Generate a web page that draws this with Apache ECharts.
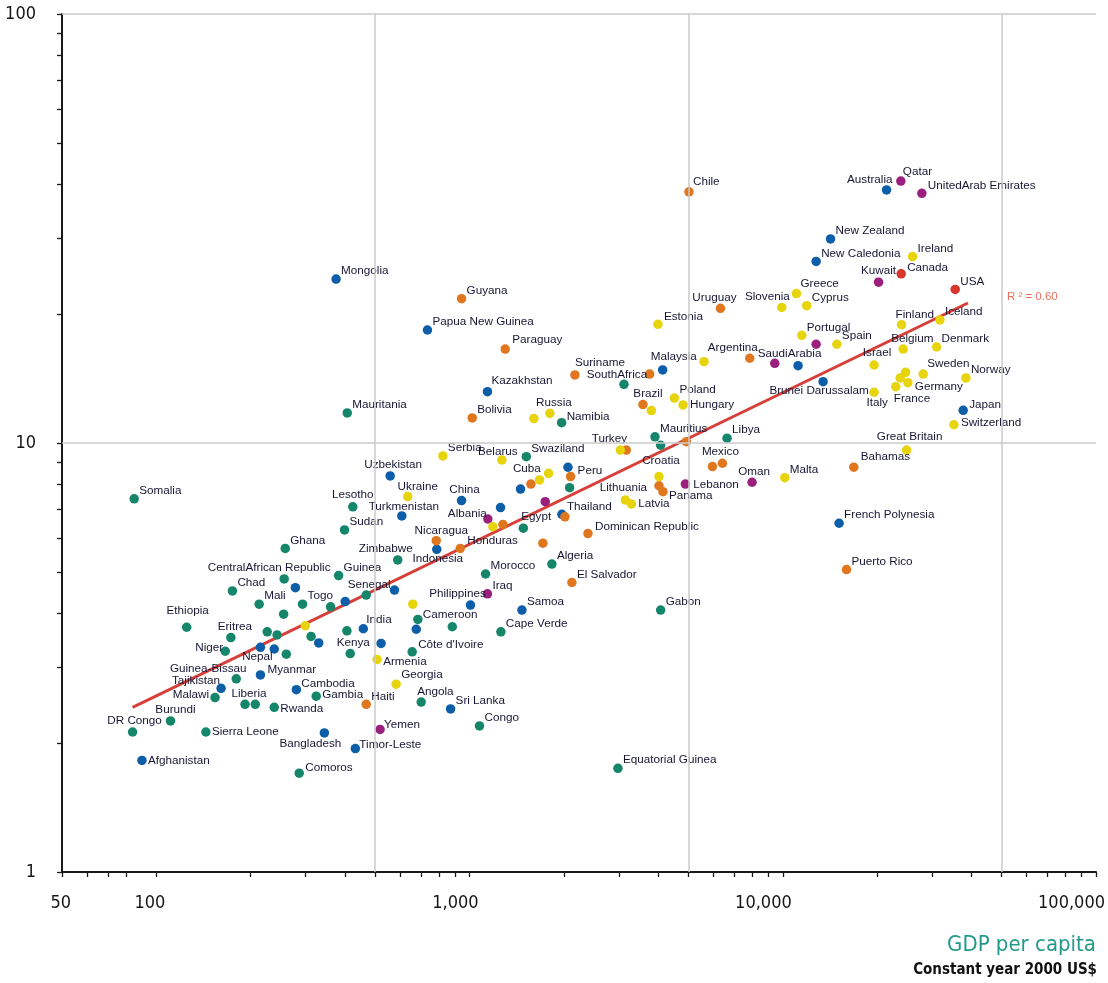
<!DOCTYPE html>
<html>
<head>
<meta charset="utf-8">
<script src="https://cdn.jsdelivr.net/npm/echarts@6/dist/echarts.min.js"></script>
<style>html,body{margin:0;padding:0;background:#fff}#chart{width:1108px;height:983px}</style>
</head>
<body>
<div id="chart"></div>
<script>
// [country label, GDP per capita (constant 2000 US$), value]
const africa = [
  ['Somalia', 85, 7.41], ['Mauritania', 407, 11.75], ['Lesotho', 424, 7.10], ['Sudan', 399, 6.27],
  ['Ghana', 258, 5.68], ['CentralAfrican Republic', 256, 4.82], ['Guinea', 382, 4.91], ['Chad', 175, 4.52],
  ['Mali', 213, 4.21], ['Togo', 293, 4.21], ['Senegal', 468, 4.42], ['Ethiopia', 125, 3.72],
  ['Eritrea', 173, 3.52], ['Niger', 166, 3.27], ['Kenya', 416, 3.23], ['Guinea-Bissau', 180, 2.82],
  ['Malawi', 154, 2.55], ['Liberia', 192, 2.46], ['Rwanda', 238, 2.42], ['Gambia', 324, 2.57],
  ['Burundi', 111, 2.25], ['DR Congo', 84, 2.12], ['Sierra Leone', 144, 2.12], ['Comoros', 286, 1.70],
  ['Zimbabwe', 590, 5.34], ['Morocco', 1125, 4.95], ['Algeria', 1832, 5.22], ['Egypt', 1485, 6.33],
  ['Namibia', 1968, 11.15], ['SouthAfrica', 3112, 13.70], ['Swaziland', 1518, 9.29], ['Mauritius', 3909, 10.34],
  ['Libya', 6640, 10.26], ['Gabon', 4075, 4.08], ['Cape Verde', 1259, 3.63], ['Cameroon', 684, 3.88],
  ["Côte d'Ivoire", 656, 3.26], ['Angola', 701, 2.49], ['Congo', 1076, 2.19], ['Equatorial Guinea', 2977, 1.745],
  ['', 360, 4.15], ['', 255, 3.99], ['', 226, 3.63], ['', 243, 3.57], ['', 312, 3.54], ['', 406, 3.65],
  ['', 260, 3.22], ['', 207, 2.46], ['', 881, 3.73], ['', 2087, 7.87], ['', 4075, 9.88]
];
const asiaPacific = [
  ['Australia', 21445, 38.9], ['New Zealand', 14208, 29.9], ['New Caledonia', 12780, 26.5],
  ['Brunei Darussalam', 13450, 13.9], ['Japan', 37670, 11.92], ['French Polynesia', 15130, 6.50],
  ['Malaysia', 4136, 14.8], ['', 11190, 15.14], ['Mongolia', 375, 24.1], ['Papua New Guinea', 734, 18.34],
  ['Kazakhstan', 1141, 13.17], ['Uzbekistan', 558, 8.38], ['Turkmenistan', 608, 6.76], ['China', 943, 7.34],
  ['Thailand', 1972, 6.82], ['', 2062, 8.78], ['', 1455, 7.81], ['', 1256, 7.07], ['Indonesia', 786, 5.65],
  ['Philippines', 1007, 4.19], ['Samoa', 1470, 4.08], ['India', 458, 3.69], ['', 522, 3.41], ['', 676, 3.68],
  ['', 576, 4.54], ['', 401, 4.27], ['', 278, 4.60], ['Nepal', 215, 3.34], ['', 238, 3.31], ['', 330, 3.42],
  ['Myanmar', 215, 2.88], ['Tajikistan', 161, 2.68], ['Cambodia', 280, 2.66], ['Bangladesh', 344, 2.11],
  ['Timor-Leste', 432, 1.94], ['Sri Lanka', 870, 2.40], ['Afghanistan', 90, 1.82]
];
const europe = [
  ['Ireland', 25970, 27.2], ['Greece', 11060, 22.3], ['Slovenia', 9930, 20.7], ['Cyprus', 11930, 20.9],
  ['Finland', 23950, 18.87], ['Iceland', 31740, 19.35], ['Portugal', 11500, 17.82], ['Spain', 14880, 16.99],
  ['Israel', 19570, 15.2], ['Belgium', 24230, 16.56], ['Denmark', 30980, 16.74], ['Sweden', 28070, 14.48],
  ['Norway', 38430, 14.18], ['', 24660, 14.61], ['', 23710, 14.18], ['Germany', 25080, 13.82],
  ['France', 22960, 13.53], ['Italy', 19570, 13.13], ['Switzerland', 35180, 11.03], ['Great Britain', 24850, 9.63],
  ['Malta', 10150, 8.30], ['Estonia', 3995, 18.91], ['', 5606, 15.47], ['Poland', 4508, 12.73],
  ['Hungary', 4803, 12.27], ['', 3806, 11.90], ['Russia', 1805, 11.73], ['', 1605, 11.40],
  ['Turkey', 3030, 9.63], ['Croatia', 4025, 8.35], ['Lithuania', 3144, 7.36], ['Latvia', 3286, 7.21],
  ['Serbia', 822, 9.33], ['Belarus', 1268, 9.13], ['', 1673, 8.20], ['', 1788, 8.50], ['Ukraine', 635, 7.50],
  ['Albania', 1187, 6.38], ['', 659, 4.21], ['', 299, 3.75], ['Armenia', 507, 3.13], ['Georgia', 583, 2.74]
];
const latinAmerica = [
  ['Chile', 5018, 38.5], ['Guyana', 943, 21.7], ['Paraguay', 1300, 16.56], ['Uruguay', 6324, 20.6],
  ['Argentina', 7846, 15.76], ['Suriname', 2170, 14.41], ['', 3759, 14.48], ['Brazil', 3578, 12.29],
  ['Bolivia', 1020, 11.44], ['', 3167, 9.63], ['', 4923, 10.07], ['Mexico', 6416, 8.97], ['', 5963, 8.81],
  ['Bahamas', 16860, 8.78], ['Puerto Rico', 15980, 5.07], ['Peru', 2102, 8.35], ['Cuba', 1570, 8.02],
  ['Panama', 4145, 7.70], ['', 4025, 7.95], ['', 2016, 6.73], ['Dominican Republic', 2388, 6.15],
  ['', 1278, 6.46], ['', 1715, 5.84], ['Nicaragua', 783, 5.92], ['Honduras', 934, 5.68],
  ['El Salvador', 2122, 4.73], ['Haiti', 468, 2.46]
];
const middleEast = [
  ['Qatar', 23820, 40.8], ['UnitedArab Emirates', 27800, 38.2], ['Kuwait', 20220, 23.7],
  ['SaudiArabia', 9430, 15.34], ['', 12780, 16.99], ['Oman', 7980, 8.10], ['Lebanon', 4887, 8.02],
  ['Iraq', 1141, 4.45], ['Yemen', 518, 2.15], ['', 1144, 6.65], ['', 1745, 7.30]
];
const northAmerica = [
  ['USA', 35520, 22.8], ['Canada', 23880, 24.8]
];
// regression line end points
const trendX = [84, 39000];
const trendY = [2.42, 21.2];
const rSquared = '0.60';
// axis ticks and labels
const xTickValues = [50,60,70,80,100,200,300,400,500,600,700,800,900,1000,2000,3000,4000,5000,6000,7000,8000,9000,
  10000,20000,30000,40000,50000,60000,70000,80000,90000,100000];
const xLabelValues = [50, 100, 1000, 10000, 100000];
const yTickValues = [1,2,3,4,5,6,7,8,9,10,20,30,40,50,60,70,80,90,100];
const yLabelValues = [1, 10, 100];
const gridX = [500, 5000, 50000];
const gridY = [10, 100];

// ---- styling ----
const regionColors = {
  africa: '#16866b', asiaPacific: '#0d5ea8', europe: '#e7d40c',
  latinAmerica: '#e0771f', middleEast: '#9b1f7d', northAmerica: '#d8352c'
};
const DOT = 9.5;
const labelFont = "'Liberation Sans', Arial, sans-serif";
const axisFont = "'Liberation Sans Narrow', 'Noto Sans Condensed', 'DejaVu Sans Condensed', sans-serif";
// [align, dx, dy] relative to dot centre; default is upper right
const labelPlace = {
  'Chile': ['left',4,-10], 'Australia': ['right',6,-10], 'Qatar': ['left',2,-9], 'UnitedArab Emirates': ['left',6,-8],
  'Kuwait': ['center',0,-11], 'Canada': ['left',6,-6], 'Greece': ['left',4,-10], 'Slovenia': ['right',8,-11],
  'Finland': ['left',-6,-10], 'SaudiArabia': ['left',-17,-10], 'Argentina': ['right',8,-10],
  'Brunei Darussalam': ['center',-4,9], 'Israel': ['center',3,-12], 'Belgium': ['left',-12,-10],
  'Sweden': ['left',4,-10], 'Germany': ['left',7,4], 'France': ['left',-2,12], 'Italy': ['center',3,11],
  'Japan': ['left',6,-6], 'Switzerland': ['left',7,-2], 'Great Britain': ['center',3,-13], 'Bahamas': ['left',7,-10],
  'Oman': ['center',2,-10], 'Uruguay': ['center',-6,-11], 'Malaysia': ['left',-12,-13], 'Suriname': ['left',0,-12],
  'SouthAfrica': ['center',-7,-10], 'Kazakhstan': ['left',4,-11], 'Brazil': ['center',5,-11], 'Hungary': ['left',7,0],
  'Russia': ['center',4,-10], 'Namibia': ['left',5,-6], 'Turkey': ['center',-11,-11], 'Belarus': ['center',-4,-8],
  'Croatia': ['center',2,-16], 'Mexico': ['center',-2,-11], 'Lebanon': ['left',8,1], 'Panama': ['left',6,4],
  'Lithuania': ['center',-2,-12], 'Latvia': ['left',7,0], 'Cuba': ['center',-4,-15], 'Egypt': ['left',-2,-11],
  'Albania': ['right',-6,-13], 'China': ['center',3,-11], 'Ukraine': ['center',10,-10], 'Uzbekistan': ['center',3,-11],
  'Turkmenistan': ['center',2,-9], 'Nicaragua': ['center',5,-10], 'Indonesia': ['center',1,9],
  'Zimbabwe': ['center',-12,-11], 'Philippines': ['center',-13,-11], 'Cameroon': ['left',5,-5], 'Armenia': ['left',6,2],
  'India': ['left',3,-9], 'Angola': ['left',-4,-10], 'Yemen': ['left',4,-5], 'Timor-Leste': ['left',4,-4],
  'Tajikistan': ['right',-1,-8], 'Malawi': ['right',-6,-3], 'Liberia': ['center',4,-11], 'Rwanda': ['left',6,1],
  'Cambodia': ['left',5,-6], 'Gambia': ['left',6,-1], 'Burundi': ['center',5,-11], 'DR Congo': ['center',2,-11],
  'Sierra Leone': ['left',6,0], 'Bangladesh': ['center',-14,11], 'Afghanistan': ['left',6,0], 'Comoros': ['left',6,-5],
  'Lesotho': ['center',0,-12], 'CentralAfrican Republic': ['center',-15,-11], 'Senegal': ['center',3,-10],
  'Ethiopia': ['center',1,-16], 'Eritrea': ['center',4,-11], 'Niger': ['right',-2,-3], 'Nepal': ['center',-3,9],
  'Kenya': ['center',3,-11], 'Guinea-Bissau': ['center',-28,-10], 'Myanmar': ['left',7,-5],
  "Côte d'Ivoire": ['left',6,-7], 'Paraguay': ['left',7,-9], 'Estonia': ['left',6,-8], 'Honduras': ['left',7,-8],
  'Dominican Republic': ['left',7,-7], 'Peru': ['left',7,-6], 'Georgia': ['left',5,-9]
};

function makeItems(rows) {
  return rows.map(([name, x, y]) => {
    const item = { name: name, value: [x, y] };
    if (name) {
      const p = labelPlace[name] || ['left', 5, -8];
      item.label = {
        show: true, formatter: '{b}', position: [DOT / 2 + p[1], DOT / 2 + p[2]],
        align: p[0], verticalAlign: 'middle'
      };
    } else {
      item.label = { show: false };
    }
    return item;
  });
}
function scatter(key, rows) {
  return {
    type: 'scatter', name: key, data: makeItems(rows), symbol: 'circle', symbolSize: DOT, z: 3,
    itemStyle: { color: regionColors[key], opacity: 1 },
    label: { color: '#161633', fontFamily: labelFont, fontSize: 11.7 },
    emphasis: { disabled: true }
  };
}
const fmt = v => Math.round(v).toLocaleString('en-US');

const chart = echarts.init(document.getElementById('chart'), null, { renderer: 'canvas' });
chart.setOption({
  animation: false,
  backgroundColor: '#ffffff',
  grid: { left: 62, right: 12, top: 14, bottom: 111, outerBoundsMode: 'none', containLabel: false },
  title: [
    { text: 'GDP per capita', right: 7, top: 929,
      textStyle: { color: '#23998b', fontFamily: axisFont, fontSize: 22, fontWeight: 'normal' } },
    { text: 'Constant year 2000 US$', right: 6, top: 958,
      textStyle: { color: '#111111', fontFamily: axisFont, fontSize: 15, fontWeight: 'bold' } }
  ],
  xAxis: {
    type: 'log', logBase: 10, min: 50, max: 100000,
    axisLine: { show: true, onZero: false, lineStyle: { color: '#1a1a1a', width: 2 } },
    axisTick: { show: true, length: 5, customValues: xTickValues, lineStyle: { color: '#1a1a1a', width: 1.3 } },
    axisLabel: { customValues: xLabelValues, formatter: fmt, fontFamily: axisFont, fontSize: 18,
      color: '#151515', margin: 22, align: 'right', padding: [0, -9, 0, 0] },
    splitLine: { show: false }, minorTick: { show: false }
  },
  yAxis: {
    type: 'log', logBase: 10, min: 1, max: 100,
    axisLine: { show: true, onZero: false, lineStyle: { color: '#1a1a1a', width: 2 } },
    axisTick: { show: true, length: 5, customValues: yTickValues, lineStyle: { color: '#1a1a1a', width: 1.3 } },
    axisLabel: { customValues: yLabelValues, formatter: fmt, fontFamily: axisFont, fontSize: 18,
      color: '#151515', margin: 26 },
    splitLine: { show: false }
  },
  series: [
    {
      type: 'line', name: 'grid', data: [], z: 0, silent: true,
      markLine: {
        silent: true, symbol: ['none', 'none'], label: { show: false }, animation: false,
        lineStyle: { color: '#cacaca', width: 1.5, type: 'solid' },
        emphasis: { disabled: true },
        data: gridX.map(v => ({ xAxis: v })).concat(gridY.map(v => ({ yAxis: v })))
      }
    },
    {
      type: 'line', name: 'trend', z: 2, silent: true, symbol: 'none', showSymbol: false,
      data: trendX.map((x, i) => [x, trendY[i]]),
      lineStyle: { color: '#d7403a', width: 3 },
      endLabel: { show: true, formatter: 'R ² = ' + rSquared, color: '#e9705e', fontFamily: labelFont,
        fontSize: 11.5, offset: [31, -6] }
    },
    scatter('africa', africa),
    scatter('asiaPacific', asiaPacific),
    scatter('latinAmerica', latinAmerica),
    scatter('middleEast', middleEast),
    scatter('northAmerica', northAmerica),
    scatter('europe', europe)
  ]
});
</script>
</body>
</html>
